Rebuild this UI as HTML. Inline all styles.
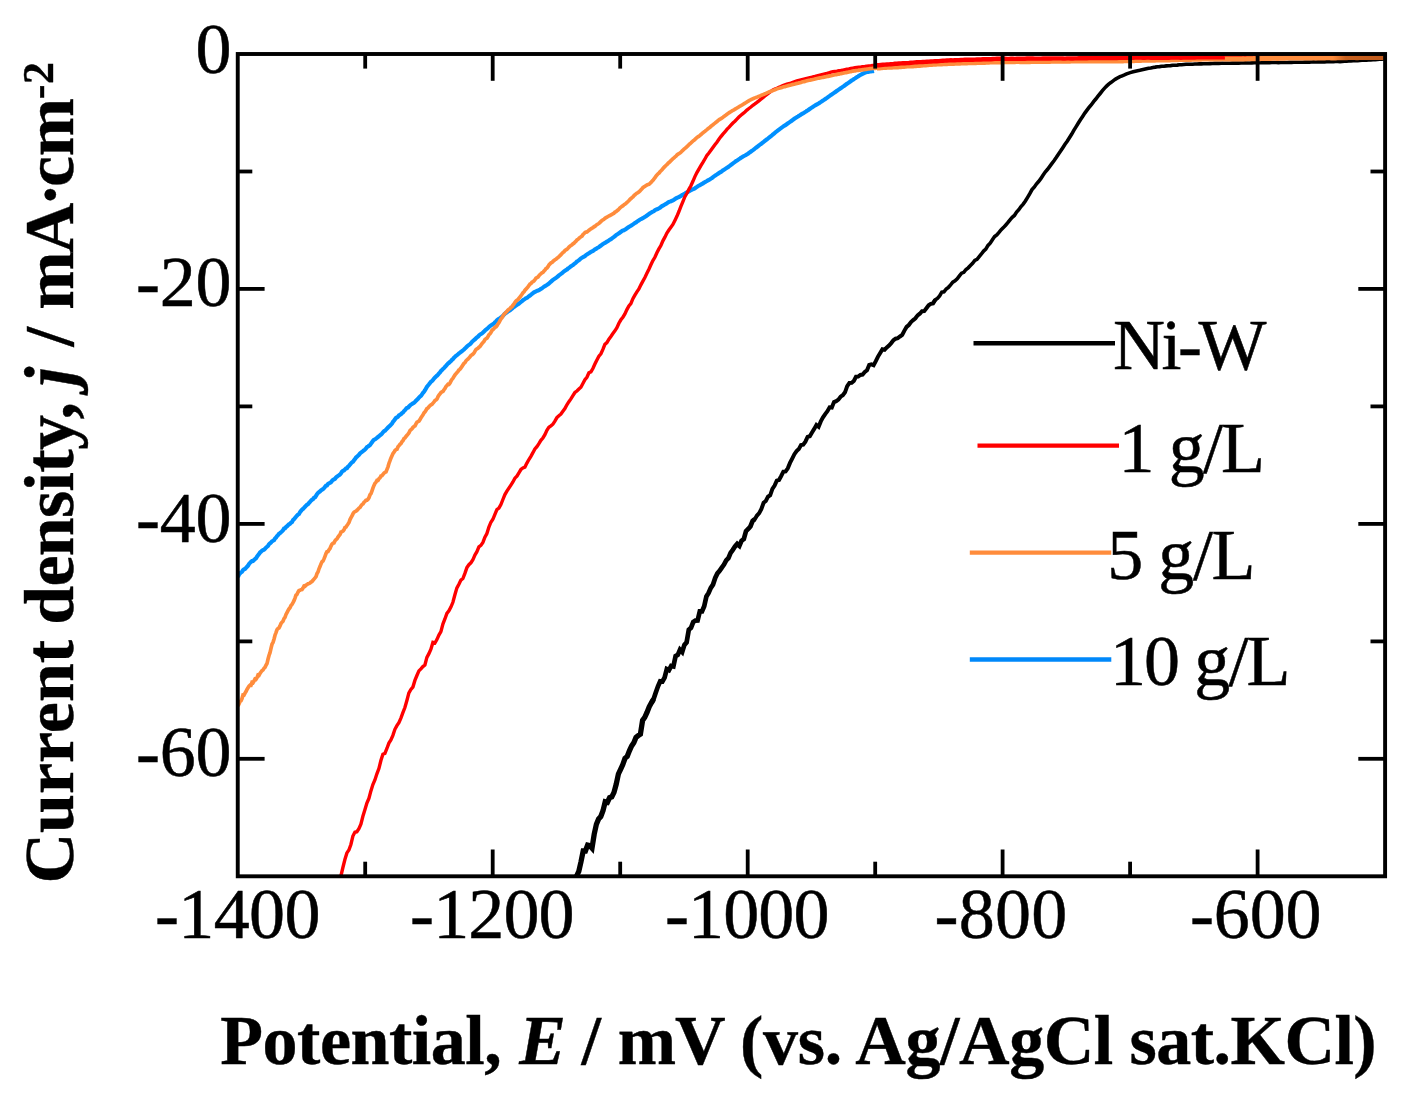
<!DOCTYPE html>
<html lang="en">
<head>
<meta charset="utf-8">
<title>Polarization curves</title>
<style>
html,body{margin:0;padding:0;background:#fff;}
body{width:1412px;height:1099px;overflow:hidden;}
svg{display:block;filter:blur(0.55px);font-family:"Liberation Serif",serif;}
.tk{font-size:72px;fill:#000;stroke:#000;stroke-width:0.5px;}
.ttl{font-size:70px;font-weight:bold;fill:#000;stroke:#000;stroke-width:0.4px;}
.cv{fill:none;stroke-linejoin:miter;stroke-miterlimit:2.5;stroke-linecap:butt;}
</style>
</head>
<body>
<svg width="1412" height="1099" viewBox="0 0 1412 1099">
<rect x="0" y="0" width="1412" height="1099" fill="#fff"/>
<defs><linearGradient id="og" gradientUnits="userSpaceOnUse" x1="870" y1="0" x2="1390" y2="0">
<stop offset="0" stop-color="#ff8c3c"/><stop offset="0.89" stop-color="#ff8c3c"/><stop offset="0.915" stop-color="#c8601e"/><stop offset="1" stop-color="#c05a1c"/>
</linearGradient></defs>
<!-- curves -->
<g class="cv">
<path id="c-black0" d="M933.0,303.4 935.2,299.9 937.4,298.4 939.6,295.9 941.8,292.1 944.0,291.9 946.2,289.0 948.4,287.3 950.6,284.9 952.8,282.2 955.0,280.9 957.2,278.8 959.4,275.9 961.6,273.2 963.8,272.3 966.0,269.5 968.2,267.8 970.4,265.5 972.6,263.3 974.8,260.4 977.0,259.3 979.2,256.7 981.4,254.0 983.6,251.1 985.8,249.2 988.0,245.4 990.2,243.2 992.4,239.8 994.6,236.6 996.8,234.9 999.0,232.4 1001.2,229.7 1003.4,227.6 1005.6,225.2 1007.8,222.7 1010.0,219.8 1012.2,217.3 1014.4,215.5 1016.6,212.1 1018.8,209.7 1021.0,206.5 1023.2,204.1 1025.4,201.0 1027.6,197.4 1029.8,193.7 1032.0,189.6 1034.2,187.2 1036.4,184.0 1038.6,181.5 1040.8,178.7 1043.0,175.2 1045.2,172.0 1047.4,169.5 1049.6,166.6 1051.8,163.7 1054.0,160.8 1056.2,157.6 1058.4,154.2 1060.6,151.1 1062.8,147.7 1065.0,144.3 1067.2,141.3 1069.4,137.8 1071.6,134.3 1073.8,130.4 1076.0,126.9 1078.2,123.3 1080.4,119.8 1082.6,116.5 1084.8,113.1 1087.0,110.1 1089.2,107.2 1091.4,104.7 1093.6,101.6 1095.8,99.0 1098.0,96.2 1100.2,93.5 1102.4,90.7 1104.6,88.1 1106.8,85.9 1109.0,83.9 1111.2,82.3 1113.4,80.6 1115.6,79.1 1117.8,77.8 1120.0,76.7 1122.2,75.8 1124.4,74.9 1126.6,73.9 1128.8,73.1 1131.0,72.4 1133.2,71.7 1135.4,71.2 1137.6,70.7 1139.8,70.3 1142.0,69.8 1144.2,69.3 1146.4,68.8 1148.6,68.3 1150.8,67.9 1153.0,67.4 1155.2,67.1 1157.4,66.7 1159.6,66.6 1161.8,66.3 1164.0,66.2 1166.2,65.9 1168.4,65.8 1170.6,65.6 1172.8,65.3 1175.0,65.2 1177.2,65.1 1179.4,64.8 1181.6,64.7 1183.8,64.5 1186.0,64.3 1188.2,64.3 1190.4,64.2 1192.6,64.2 1194.8,64.0 1197.0,64.0 1199.2,63.9 1201.4,63.9 1203.6,63.8 1205.8,63.7 1208.0,63.7 1210.2,63.6 1212.4,63.5 1214.6,63.3 1216.8,63.4 1219.0,63.4 1221.2,63.3 1223.4,63.3 1225.6,63.3 1227.8,63.2 1230.0,63.2 1232.2,63.1 1234.4,63.1 1236.6,63.1 1238.8,63.1 1241.0,63.0 1243.2,63.0 1245.4,62.9 1247.6,63.0 1249.8,63.0 1252.0,62.9 1254.2,62.8 1256.4,62.8 1258.6,62.8 1260.8,62.8 1263.0,62.7 1265.2,62.7 1267.4,62.7 1269.6,62.7 1271.8,62.5 1274.0,62.5 1276.2,62.5 1278.4,62.6 1280.6,62.5 1282.8,62.5 1285.0,62.5 1287.2,62.5 1289.4,62.4 1291.6,62.4 1293.8,62.3 1296.0,62.2 1298.2,62.3 1300.4,62.3 1302.6,62.2 1304.8,62.1 1307.0,62.1 1309.2,62.1 1311.4,62.0 1313.6,61.9 1315.8,62.0 1318.0,61.9 1320.2,61.9 1322.4,61.9 1324.6,61.9 1326.8,61.8 1329.0,61.8 1331.2,61.7 1333.4,61.6 1335.6,61.5 1337.8,61.5 1340.0,61.6 1342.2,61.5 1344.4,61.3 1346.6,61.1 1348.8,61.0 1351.0,60.9 1353.2,60.8 1355.4,60.7 1357.6,60.6 1359.8,60.4 1362.0,60.3 1364.2,60.2 1366.4,60.1 1368.6,60.0 1370.8,59.9 1373.0,59.8 1375.2,59.6 1377.4,59.4 1379.6,59.3 1381.8,59.1 1384.0,59.0" stroke="#000" stroke-width="3.6"/>
<path id="c-black1" d="M752.6,520.9 754.8,519.2 757.0,515.5 759.2,513.2 761.4,508.9 763.6,502.8 765.8,501.0 768.0,496.7 770.2,495.3 772.4,488.8 774.6,485.6 776.8,480.6 779.0,480.0 781.2,476.0 783.4,471.7 785.6,471.4 787.8,468.3 790.0,462.9 792.2,458.6 794.4,454.2 796.6,451.1 798.8,449.1 801.0,445.1 803.2,444.7 805.4,441.7 807.6,436.9 809.8,436.3 812.0,432.5 814.2,428.9 816.4,425.0 818.6,426.7 820.8,421.4 823.0,417.4 825.2,414.1 827.4,411.2 829.6,407.3 831.8,407.6 834.0,402.1 836.2,401.2 838.4,399.6 840.6,396.7 842.8,395.2 845.0,392.3 847.2,386.1 849.4,383.0 851.6,382.9 853.8,380.9 856.0,376.7 858.2,376.6 860.4,374.9 862.6,374.6 864.8,372.0 867.0,370.2 869.2,365.0 871.4,364.4 873.6,365.2 875.8,361.2 878.0,356.6 880.2,352.9 882.4,349.2 884.6,349.7 886.8,347.4 889.0,345.5 891.2,343.1 893.4,340.3 895.6,338.7 897.8,338.1 900.0,336.5 902.2,335.0 904.4,330.6 906.6,326.9 908.8,325.0 911.0,322.1 913.2,320.1 915.4,318.3 917.6,315.4 919.8,313.7 922.0,311.2 924.2,311.1 926.4,308.2 928.6,305.3 930.8,303.9 933.0,303.4 935.2,299.9" stroke="#000" stroke-width="4.0"/>
<path id="c-black2" d="M651.4,702.8 653.6,699.1 655.8,692.5 658.0,686.3 660.2,681.3 662.4,681.5 664.6,677.6 666.8,669.1 669.0,670.2 671.2,666.0 673.4,666.5 675.6,656.1 677.8,654.9 680.0,649.7 682.2,652.0 684.4,644.9 686.6,642.4 688.8,629.8 691.0,627.9 693.2,622.1 695.4,620.6 697.6,620.5 699.8,611.4 702.0,611.4 704.2,606.2 706.4,596.5 708.6,593.0 710.8,587.8 713.0,584.6 715.2,577.9 717.4,573.4 719.6,570.9 721.8,567.6 724.0,564.6 726.2,560.5 728.4,558.2 730.6,552.9 732.8,549.8 735.0,546.5 737.2,543.9 739.4,545.9 741.6,540.7 743.8,539.1 746.0,531.2 748.2,529.0 750.4,526.4 752.6,520.9 754.8,519.2" stroke="#000" stroke-width="4.7"/>
<path id="c-black3" d="M576.6,876.0 578.8,871.3 581.0,861.8 583.2,851.0 585.4,851.0 587.6,845.1 589.8,845.7 592.0,848.1 594.2,834.3 596.4,824.3 598.6,818.9 600.8,816.5 603.0,810.8 605.2,801.8 607.4,802.4 609.6,797.6 611.8,796.9 614.0,792.4 616.2,784.3 618.4,774.0 620.6,769.3 622.8,764.6 625.0,758.3 627.2,756.5 629.4,750.8 631.6,746.0 633.8,742.7 636.0,737.4 638.2,735.6 640.4,734.1 642.6,720.4 644.8,717.3 647.0,712.4 649.2,706.8 651.4,702.8 653.6,699.1" stroke="#000" stroke-width="5.3"/>
<path id="c-blue" d="M238.0,577.0 239.0,574.5 240.0,573.4 241.0,572.3 242.0,571.8 243.0,570.1 244.0,569.3 245.0,568.9 246.0,567.8 247.0,566.8 248.0,565.7 249.0,563.9 250.0,562.9 251.0,561.9 252.0,561.1 253.0,561.0 254.0,560.0 255.0,559.0 256.0,558.3 257.0,556.6 258.0,555.2 259.0,554.0 260.0,552.5 261.0,551.8 262.0,550.7 263.0,550.2 264.0,549.7 265.0,548.9 266.0,547.6 267.0,546.8 268.0,545.9 269.0,544.2 270.0,543.3 271.0,542.5 272.0,541.3 273.0,540.8 274.0,540.2 275.0,538.5 276.0,537.6 277.0,536.1 278.0,535.2 279.0,533.8 280.0,533.1 281.0,532.2 282.0,531.4 283.0,530.2 284.0,528.5 285.0,528.3 286.0,527.0 287.0,526.3 288.0,525.3 289.0,524.3 290.0,523.8 291.0,522.7 292.0,522.1 293.0,520.0 294.0,519.3 295.0,518.0 296.0,516.7 297.0,515.6 298.0,514.5 299.0,513.9 300.0,512.1 301.0,510.9 302.0,509.7 303.0,508.9 304.0,507.8 305.0,506.8 306.0,505.6 307.0,504.8 308.0,504.2 309.0,502.9 310.0,501.9 311.0,500.6 312.0,499.8 313.0,499.2 314.0,497.8 315.0,497.4 316.0,495.8 317.0,494.2 318.0,493.0 319.0,492.2 320.0,491.4 321.0,490.4 322.0,489.7 323.0,489.1 324.0,488.1 325.0,486.9 326.0,485.7 327.0,485.5 328.0,483.9 329.0,483.2 330.0,482.8 331.0,482.2 332.0,480.9 333.0,479.9 334.0,479.3 335.0,478.8 336.0,477.5 337.0,476.7 338.0,475.8 339.0,475.2 340.0,474.5 341.0,473.3 342.0,471.7 343.0,470.8 344.0,470.5 345.0,469.4 346.0,468.4 347.0,468.2 348.0,466.6 349.0,465.8 350.0,464.5 351.0,463.4 352.0,462.4 353.0,461.7 354.0,460.3 355.0,459.0 356.0,457.5 357.0,456.8 358.0,455.7 359.0,454.8 360.0,453.5 361.0,452.6 362.0,451.9 363.0,451.0 364.0,450.3 365.0,449.5 366.0,448.5 367.0,447.1 368.0,446.5 369.0,445.8 370.0,445.1 371.0,443.6 372.0,442.2 373.0,440.8 374.0,439.7 375.0,439.3 376.0,438.7 377.0,437.8 378.0,437.0 379.0,436.3 380.0,435.2 381.0,434.5 382.0,433.7 383.0,432.2 384.0,431.2 385.0,430.7 386.0,429.7 387.0,428.6 388.0,427.5 389.0,426.5 390.0,425.8 391.0,424.7 392.0,423.6 393.0,421.7 394.0,420.7 395.0,419.3 396.0,417.9 397.0,417.4 398.0,416.8 399.0,415.4 400.0,414.8 401.0,414.1 402.0,413.0 403.0,412.4 404.0,411.1 405.0,410.1 406.0,408.9 407.0,407.9 408.0,407.6 409.0,406.5 410.0,405.5 411.0,404.6 412.0,404.0 413.0,403.3 414.0,402.8 415.0,401.9 416.0,400.7 417.0,399.7 418.0,398.8 419.0,397.5 420.0,396.5 421.0,395.8 422.0,394.3 423.0,392.9 424.0,391.8 425.0,390.2 426.0,388.4 427.0,386.7 428.0,385.5 429.0,384.3 430.0,383.0 431.0,381.8 432.0,380.9 433.0,379.9 434.0,378.5 435.0,377.5 436.0,376.5 437.0,375.7 438.0,374.6 439.0,373.4 440.0,372.4 441.0,370.9 442.0,370.0 443.0,368.9 444.0,368.1 445.0,366.9 446.0,365.8 447.0,364.7 448.0,363.5 449.0,362.8 450.0,361.8 451.0,361.0 452.0,359.8 453.0,359.0 454.0,357.7 455.0,356.8 456.0,355.8 457.0,355.1 458.0,354.3 459.0,353.4 460.0,352.7 461.0,351.9 462.0,351.1 463.0,350.3 464.0,349.4 465.0,348.4 466.0,347.5 467.0,346.5 468.0,345.6 469.0,344.9 470.0,344.2 471.0,343.1 472.0,341.9 473.0,340.9 474.0,340.0 475.0,339.3 476.0,338.3 477.0,337.3 478.0,336.6 479.0,335.5 480.0,334.6 481.0,334.0 482.0,333.4 483.0,332.5 484.0,331.6 485.0,330.5 486.0,329.7 487.0,328.8 488.0,328.0 489.0,327.0 490.0,326.2 491.0,325.4 492.0,324.7 493.0,324.2 494.0,323.5 495.0,322.3 496.0,321.4 497.0,320.3 498.0,319.4 499.0,318.8 500.0,318.2 501.0,317.3 502.0,316.6 503.0,315.7 504.0,314.7 505.0,313.6 506.0,312.8 507.0,312.3 508.0,311.3 509.0,310.8 510.0,310.3 511.0,309.4 512.0,308.6 513.0,307.7 514.0,306.9 515.0,306.3 516.0,305.5 517.0,304.8 518.0,304.2 519.0,303.5 520.0,302.7 521.0,301.9 522.0,301.2 523.0,300.2 524.0,299.6 525.0,298.9 526.0,298.1 527.0,297.9 528.0,297.0 529.0,296.2 530.0,295.6 531.0,294.7 532.0,293.9 533.0,293.1 534.0,292.3 535.0,291.8 536.0,291.3 537.0,290.9 538.0,290.5 539.0,290.1 540.0,289.5 541.0,288.8 542.0,288.3 543.0,287.5 544.0,286.7 545.0,286.2 546.0,285.6 547.0,284.9 548.0,284.2 549.0,283.5 550.0,282.5 551.0,281.7 552.0,280.7 553.0,280.0 554.0,279.1 555.0,278.6 556.0,277.9 557.0,277.0 558.0,276.3 559.0,275.3 560.0,274.6 561.0,273.9 562.0,273.2 563.0,272.2 564.0,271.4 565.0,270.7 566.0,270.1 567.0,269.5 568.0,268.5 569.0,267.9 570.0,267.0 571.0,266.3 572.0,265.6 573.0,265.0 574.0,264.1 575.0,263.4 576.0,262.5 577.0,261.5 578.0,260.9 579.0,260.2 580.0,259.2 581.0,258.3 582.0,257.7 583.0,257.2 584.0,256.7 585.0,256.1 586.0,255.1 587.0,254.4 588.0,253.8 589.0,253.2 590.0,252.6 591.0,251.8 592.0,251.4 593.0,250.9 594.0,250.2 595.0,249.3 596.0,248.9 597.0,248.1 598.0,247.5 599.0,247.1 600.0,246.2 601.0,245.5 602.0,244.7 603.0,244.1 604.0,243.4 605.0,243.0 606.0,242.3 607.0,241.6 608.0,241.1 609.0,240.3 610.0,239.6 611.0,239.2 612.0,238.3 613.0,237.6 614.0,236.9 615.0,236.1 616.0,235.1 617.0,234.6 618.0,233.9 619.0,233.2 620.0,232.5 621.0,231.8 622.0,231.0 623.0,230.4 624.0,230.2 625.0,229.6 626.0,229.1 627.0,228.2 628.0,227.6 629.0,226.8 630.0,226.3 631.0,225.7 632.0,225.1 633.0,224.4 634.0,223.7 635.0,222.9 636.0,222.4 637.0,221.6 638.0,220.9 639.0,220.3 640.0,219.6 641.0,219.0 642.0,218.6 643.0,218.0 644.0,217.4 645.0,216.8 646.0,216.2 647.0,215.4 648.0,214.8 649.0,214.0 650.0,213.3 651.0,212.7 652.0,212.1 653.0,211.5 654.0,211.1 655.0,210.2 656.0,209.6 657.0,209.3 658.0,208.8 659.0,208.3 660.0,207.7 661.0,206.9 662.0,206.1 663.0,205.6 664.0,205.1 665.0,204.4 666.0,203.8 667.0,203.3 668.0,202.5 669.0,201.9 670.0,201.6 671.0,201.3 672.0,200.7 673.0,200.4 674.0,199.7 675.0,199.1 676.0,198.3 677.0,197.8 678.0,197.3 679.0,197.0 680.0,196.4 681.0,195.9 682.0,195.1 683.0,194.7 684.0,194.1 685.0,193.6 686.0,192.8 687.0,192.3 688.0,191.9 689.0,191.3 690.0,190.7 691.0,190.2 692.0,189.7 693.0,189.2 694.0,188.8 695.0,188.2 696.0,187.5 697.0,186.9 698.0,186.1 699.0,185.5 700.0,185.1 701.0,184.5 702.0,183.9 703.0,183.4 704.0,182.6 705.0,182.1 706.0,181.5 707.0,181.0 708.0,180.3 709.0,179.8 710.0,179.3 711.0,178.6 712.0,178.0 713.0,177.2 714.0,176.3 715.0,175.7 716.0,175.1 717.0,174.4 718.0,173.7 719.0,173.0 720.0,172.4 721.0,171.9 722.0,171.2 723.0,170.3 724.0,169.8 725.0,169.1 726.0,168.4 727.0,167.7 728.0,167.2 729.0,166.4 730.0,165.7 731.0,164.9 732.0,164.1 733.0,163.3 734.0,162.6 735.0,161.9 736.0,161.1 737.0,160.6 738.0,159.8 739.0,159.1 740.0,158.5 741.0,157.8 742.0,157.2 743.0,156.6 744.0,156.0 745.0,155.5 746.0,154.9 747.0,154.3 748.0,153.7 749.0,152.9 750.0,152.2 751.0,151.5 752.0,150.8 753.0,150.2 754.0,149.3 755.0,148.5 756.0,147.7 757.0,147.0 758.0,146.2 759.0,145.5 760.0,144.6 761.0,144.0 762.0,143.2 763.0,142.4 764.0,141.5 765.0,140.8 766.0,140.0 767.0,139.3 768.0,138.5 769.0,137.7 770.0,136.9 771.0,136.1 772.0,135.3 773.0,134.4 774.0,133.6 775.0,132.7 776.0,131.9 777.0,131.2 778.0,130.4 779.0,129.7 780.0,128.8 781.0,128.1 782.0,127.4 783.0,126.7 784.0,125.9 785.0,125.4 786.0,124.7 787.0,124.0 788.0,123.3 789.0,122.6 790.0,121.9 791.0,121.2 792.0,120.5 793.0,119.7 794.0,119.0 795.0,118.3 796.0,117.7 797.0,117.1 798.0,116.5 799.0,115.8 800.0,115.2 801.0,114.5 802.0,113.9 803.0,113.4 804.0,112.8 805.0,112.1 806.0,111.5 807.0,110.8 808.0,110.2 809.0,109.5 810.0,108.8 811.0,108.1 812.0,107.4 813.0,106.8 814.0,106.1 815.0,105.5 816.0,104.9 817.0,104.4 818.0,103.8 819.0,103.2 820.0,102.5 821.0,101.9 822.0,101.2 823.0,100.6 824.0,99.9 825.0,99.2 826.0,98.5 827.0,97.9 828.0,97.1 829.0,96.4 830.0,95.7 831.0,94.9 832.0,94.3 833.0,93.6 834.0,92.9 835.0,92.2 836.0,91.5 837.0,90.8 838.0,90.1 839.0,89.4 840.0,88.7 841.0,88.1 842.0,87.3 843.0,86.6 844.0,86.0 845.0,85.3 846.0,84.5 847.0,83.8 848.0,83.1 849.0,82.5 850.0,81.7 851.0,81.0 852.0,80.3 853.0,79.7 854.0,79.0 855.0,78.4 856.0,77.7 857.0,77.1 858.0,76.5 859.0,75.8 860.0,75.2 861.0,74.6 862.0,74.1 863.0,73.6 864.0,73.1 865.0,72.7 866.0,72.4 867.0,72.1 868.0,71.9 869.0,71.7 870.0,71.5 871.0,71.4 872.0,71.3 873.0,71.2 874.0,71.0" stroke="#0090ff" stroke-width="4.1"/>
<path id="c-red" d="M340.9,876.0 342.9,867.5 344.9,859.5 346.9,852.9 348.9,850.0 350.9,844.5 352.9,836.0 354.9,832.3 356.9,831.7 358.9,828.7 360.9,824.1 362.9,816.3 364.9,809.7 366.9,803.1 368.9,798.4 370.9,790.9 372.9,784.6 374.9,780.0 376.9,773.8 378.9,768.6 380.9,760.5 382.9,754.2 384.9,753.4 386.9,748.5 388.9,743.1 390.9,740.0 392.9,735.4 394.9,729.3 396.9,725.6 398.9,722.6 400.9,718.1 402.9,712.7 404.9,707.5 406.9,700.5 408.9,692.9 410.9,689.4 412.9,687.1 414.9,680.4 416.9,675.5 418.9,670.9 420.9,668.9 422.9,666.6 424.9,665.0 426.9,657.3 428.9,653.7 430.9,649.2 432.9,642.4 434.9,643.0 436.9,639.6 438.9,635.0 440.9,631.7 442.9,624.0 444.9,619.0 446.9,613.4 448.9,610.9 450.9,607.1 452.9,602.3 454.9,594.8 456.9,587.9 458.9,584.2 460.9,580.1 462.9,578.5 464.9,573.4 466.9,567.6 468.9,564.7 470.9,562.8 472.9,559.8 474.9,555.0 476.9,551.7 478.9,546.8 480.9,545.4 482.9,542.4 484.9,537.2 486.9,533.5 488.9,527.0 490.9,522.2 492.9,519.3 494.9,514.4 496.9,509.5 498.9,508.1 500.9,504.6 502.9,499.5 504.9,494.6 506.9,491.2 508.9,488.1 510.9,485.1 512.9,482.0 514.9,478.2 516.9,476.1 518.9,472.8 520.9,469.5 522.9,467.9 524.9,467.1 526.9,463.1 528.9,459.5 530.9,456.3 532.9,452.7 534.9,448.9 536.9,446.6 538.9,443.7 540.9,440.3 542.9,438.0 544.9,434.7 546.9,430.3 548.9,427.2 550.9,425.9 552.9,424.2 554.9,421.2 556.9,417.6 558.9,415.7 560.9,414.1 562.9,411.3 564.9,408.6 566.9,404.8 568.9,401.7 570.9,398.9 572.9,395.7 574.9,392.5 576.9,391.0 578.9,389.0 580.9,387.2 582.9,383.5 584.9,379.7 586.9,377.3 588.9,372.7 590.9,371.9 592.9,368.5 594.9,364.0 596.9,359.9 598.9,356.1 600.9,353.8 602.9,349.4 604.9,344.3 606.9,342.7 608.9,339.1 610.9,336.5 612.9,333.5 614.9,330.8 616.9,327.7 618.9,323.2 620.9,319.8 622.9,317.2 624.9,313.9 626.9,309.6 628.9,305.9 630.9,303.5 632.9,298.7 634.9,295.1 636.9,291.8 638.9,288.9 640.9,284.8 642.9,281.2 644.9,277.5 646.9,273.3 648.9,269.2 650.9,264.8 652.9,260.6 654.9,257.3 656.9,252.7 658.9,248.9 660.9,245.5 662.9,240.8 664.9,237.2 666.9,233.0 668.9,230.0 670.9,227.3 672.9,224.5 674.9,220.4 676.9,216.3 678.9,211.5 680.9,206.3 682.9,201.6 684.9,196.7 686.9,193.3 688.9,189.4 690.9,185.7 692.9,181.3 694.9,176.6 696.9,172.6 698.9,169.1 700.9,165.6 702.9,162.4 704.9,159.0 706.9,155.5 708.9,153.0 710.9,150.3 712.9,147.5 714.9,144.7 716.9,142.2 718.9,139.3 720.9,136.6 722.9,134.1 724.9,132.0 726.9,129.4 728.9,127.4 730.9,125.2 732.9,123.0 734.9,121.2 736.9,119.1 738.9,117.0 740.9,115.2 742.9,113.6 744.9,112.0 746.9,110.1 748.9,108.5 750.9,107.0 752.9,105.3 754.9,103.9 756.9,102.4 758.9,100.8 760.9,99.2 762.9,97.6 764.9,96.0 766.9,94.4 768.9,92.8 770.9,91.4 772.9,90.1 774.9,89.1 776.9,88.3 778.9,87.4 780.9,86.6 782.9,85.6 784.9,84.9 786.9,84.2 788.9,83.6 790.9,83.1 792.9,82.3 794.9,81.6 796.9,81.0 798.9,80.4 800.9,79.9 802.9,79.4 804.9,78.9 806.9,78.4 808.9,77.9 810.9,77.5 812.9,76.8 814.9,76.4 816.9,75.9 818.9,75.4 820.9,74.9 822.9,74.4 824.9,73.9 826.9,73.4 828.9,72.8 830.9,72.2 832.9,71.8 834.9,71.5 836.9,71.2 838.9,70.8 840.9,70.5 842.9,70.1 844.9,69.7 846.9,69.3 848.9,69.0 850.9,68.5 852.9,68.1 854.9,67.8 856.9,67.5 858.9,67.2 860.9,67.0 862.9,66.7 864.9,66.5 866.9,66.2 868.9,65.9 870.9,65.7 872.9,65.4 874.9,65.4 876.9,65.2" stroke="#ff0000" stroke-width="3.4"/>
<path id="c-orange" d="M238.0,706.0 239.0,703.9 240.0,701.6 241.0,700.9 242.0,698.6 243.0,695.0 244.0,695.1 245.0,693.1 246.0,691.5 247.0,689.4 248.0,687.9 249.0,686.1 250.0,685.2 251.0,685.3 252.0,682.4 253.0,682.7 254.0,681.0 255.0,679.0 256.0,679.3 257.0,677.7 258.0,675.1 259.0,675.4 260.0,673.4 261.0,672.0 262.0,670.6 263.0,670.0 264.0,668.3 265.0,667.3 266.0,665.2 267.0,663.6 268.0,659.3 269.0,655.5 270.0,652.7 271.0,648.3 272.0,644.2 273.0,642.4 274.0,639.2 275.0,635.2 276.0,632.6 277.0,629.6 278.0,628.5 279.0,628.0 280.0,625.9 281.0,623.5 282.0,622.2 283.0,621.2 284.0,618.6 285.0,617.3 286.0,614.5 287.0,612.6 288.0,610.7 289.0,608.9 290.0,607.8 291.0,605.5 292.0,604.4 293.0,602.7 294.0,600.7 295.0,598.1 296.0,595.2 297.0,594.4 298.0,592.1 299.0,590.6 300.0,590.2 301.0,589.7 302.0,589.6 303.0,588.0 304.0,586.1 305.0,586.3 306.0,585.0 307.0,584.7 308.0,583.8 309.0,583.6 310.0,583.0 311.0,582.1 312.0,581.5 313.0,580.3 314.0,579.1 315.0,577.9 316.0,576.6 317.0,573.6 318.0,572.0 319.0,568.8 320.0,566.6 321.0,563.9 322.0,561.8 323.0,561.1 324.0,558.9 325.0,556.3 326.0,553.6 327.0,551.7 328.0,551.5 329.0,549.7 330.0,548.5 331.0,546.1 332.0,544.1 333.0,543.2 334.0,543.0 335.0,540.7 336.0,539.7 337.0,538.8 338.0,537.1 339.0,535.7 340.0,534.6 341.0,532.0 342.0,531.6 343.0,531.0 344.0,529.8 345.0,527.5 346.0,527.1 347.0,525.4 348.0,524.0 349.0,522.5 350.0,519.6 351.0,517.7 352.0,515.8 353.0,513.8 354.0,512.3 355.0,511.5 356.0,511.1 357.0,510.3 358.0,509.2 359.0,508.1 360.0,507.4 361.0,505.8 362.0,504.6 363.0,503.9 364.0,502.2 365.0,501.5 366.0,500.2 367.0,500.1 368.0,499.2 369.0,497.6 370.0,494.8 371.0,493.6 372.0,490.8 373.0,487.8 374.0,485.4 375.0,483.2 376.0,482.2 377.0,480.4 378.0,480.4 379.0,478.6 380.0,477.8 381.0,475.9 382.0,475.7 383.0,474.3 384.0,473.1 385.0,472.4 386.0,471.9 387.0,469.4 388.0,466.8 389.0,463.3 390.0,460.7 391.0,457.9 392.0,455.7 393.0,453.5 394.0,452.3 395.0,450.5 396.0,449.6 397.0,449.3 398.0,446.8 399.0,445.7 400.0,444.3 401.0,443.5 402.0,441.6 403.0,440.6 404.0,438.6 405.0,437.9 406.0,436.5 407.0,435.3 408.0,434.2 409.0,432.8 410.0,430.6 411.0,429.7 412.0,428.7 413.0,427.3 414.0,426.5 415.0,425.9 416.0,423.9 417.0,422.1 418.0,421.7 419.0,421.1 420.0,419.6 421.0,417.7 422.0,416.2 423.0,414.8 424.0,412.9 425.0,411.9 426.0,410.2 427.0,408.5 428.0,408.1 429.0,406.7 430.0,405.6 431.0,404.9 432.0,404.3 433.0,403.1 434.0,402.0 435.0,400.4 436.0,400.0 437.0,398.9 438.0,396.7 439.0,395.1 440.0,393.8 441.0,392.5 442.0,391.9 443.0,391.3 444.0,389.7 445.0,388.4 446.0,386.5 447.0,385.4 448.0,384.3 449.0,384.4 450.0,383.1 451.0,380.9 452.0,379.3 453.0,378.2 454.0,376.4 455.0,374.9 456.0,373.6 457.0,372.6 458.0,371.4 459.0,369.9 460.0,369.2 461.0,367.8 462.0,366.5 463.0,364.8 464.0,363.4 465.0,362.6 466.0,360.8 467.0,359.8 468.0,359.1 469.0,357.9 470.0,356.9 471.0,355.3 472.0,354.8 473.0,354.1 474.0,353.0 475.0,351.1 476.0,349.5 477.0,348.8 478.0,348.3 479.0,347.2 480.0,346.5 481.0,345.0 482.0,343.6 483.0,342.4 484.0,341.4 485.0,339.5 486.0,338.8 487.0,338.1 488.0,336.5 489.0,334.7 490.0,333.8 491.0,332.3 492.0,330.3 493.0,329.5 494.0,328.5 495.0,327.2 496.0,326.9 497.0,325.6 498.0,323.9 499.0,322.5 500.0,320.6 501.0,318.9 502.0,317.6 503.0,315.9 504.0,314.2 505.0,313.4 506.0,312.3 507.0,311.2 508.0,310.1 509.0,309.1 510.0,308.5 511.0,307.3 512.0,306.8 513.0,305.2 514.0,304.0 515.0,302.3 516.0,301.1 517.0,300.1 518.0,299.5 519.0,298.1 520.0,297.0 521.0,295.7 522.0,294.3 523.0,292.8 524.0,291.8 525.0,290.1 526.0,289.1 527.0,288.1 528.0,286.8 529.0,285.5 530.0,284.0 531.0,283.6 532.0,282.1 533.0,281.6 534.0,280.8 535.0,279.6 536.0,278.2 537.0,277.5 538.0,277.0 539.0,275.6 540.0,274.5 541.0,273.7 542.0,272.8 543.0,272.3 544.0,271.0 545.0,270.0 546.0,268.5 547.0,268.1 548.0,266.7 549.0,264.9 550.0,263.9 551.0,262.9 552.0,262.5 553.0,261.4 554.0,260.5 555.0,259.7 556.0,259.2 557.0,258.2 558.0,257.5 559.0,256.7 560.0,255.6 561.0,254.6 562.0,253.6 563.0,252.4 564.0,251.8 565.0,250.4 566.0,249.8 567.0,249.2 568.0,248.2 569.0,247.1 570.0,246.1 571.0,245.4 572.0,244.7 573.0,243.8 574.0,243.2 575.0,242.1 576.0,241.2 577.0,239.9 578.0,239.2 579.0,238.4 580.0,237.4 581.0,236.8 582.0,236.1 583.0,234.5 584.0,233.7 585.0,232.6 586.0,232.1 587.0,232.0 588.0,231.1 589.0,230.3 590.0,229.5 591.0,228.8 592.0,228.2 593.0,227.7 594.0,226.7 595.0,226.3 596.0,225.3 597.0,224.6 598.0,224.0 599.0,223.4 600.0,222.4 601.0,221.4 602.0,220.5 603.0,219.8 604.0,219.3 605.0,218.3 606.0,217.7 607.0,217.1 608.0,216.5 609.0,215.9 610.0,215.5 611.0,214.9 612.0,214.3 613.0,213.7 614.0,213.3 615.0,212.1 616.0,211.6 617.0,210.8 618.0,210.0 619.0,209.0 620.0,207.9 621.0,207.1 622.0,206.3 623.0,205.7 624.0,204.7 625.0,204.2 626.0,203.4 627.0,202.5 628.0,201.5 629.0,200.5 630.0,199.4 631.0,198.5 632.0,197.6 633.0,196.8 634.0,195.6 635.0,194.8 636.0,193.8 637.0,193.0 638.0,192.6 639.0,191.8 640.0,190.9 641.0,189.8 642.0,188.7 643.0,187.5 644.0,187.0 645.0,186.2 646.0,185.6 647.0,185.0 648.0,184.6 649.0,184.3 650.0,183.4 651.0,182.5 652.0,181.3 653.0,180.3 654.0,179.0 655.0,177.6 656.0,176.2 657.0,174.9 658.0,173.8 659.0,173.1 660.0,171.8 661.0,170.8 662.0,169.7 663.0,168.5 664.0,167.4 665.0,166.4 666.0,165.3 667.0,164.6 668.0,163.4 669.0,162.5 670.0,161.6 671.0,160.5 672.0,159.6 673.0,158.7 674.0,157.8 675.0,156.9 676.0,156.1 677.0,154.9 678.0,154.2 679.0,153.7 680.0,152.9 681.0,152.2 682.0,151.1 683.0,150.2 684.0,149.2 685.0,148.3 686.0,147.5 687.0,146.6 688.0,145.7 689.0,144.6 690.0,143.7 691.0,142.9 692.0,142.0 693.0,141.0 694.0,140.4 695.0,139.4 696.0,138.5 697.0,137.5 698.0,136.8 699.0,136.2 700.0,135.4 701.0,134.5 702.0,133.6 703.0,132.8 704.0,131.9 705.0,131.2 706.0,130.4 707.0,129.6 708.0,128.7 709.0,127.9 710.0,127.2 711.0,126.3 712.0,125.6 713.0,124.7 714.0,123.9 715.0,123.1 716.0,122.3 717.0,121.5 718.0,120.6 719.0,119.8 720.0,119.2 721.0,118.6 722.0,117.9 723.0,117.2 724.0,116.4 725.0,115.7 726.0,115.0 727.0,114.2 728.0,113.5 729.0,112.8 730.0,112.2 731.0,111.5 732.0,111.0 733.0,110.3 734.0,109.8 735.0,109.2 736.0,108.6 737.0,108.0 738.0,107.4 739.0,106.7 740.0,106.1 741.0,105.6 742.0,105.0 743.0,104.5 744.0,103.8 745.0,103.2 746.0,102.5 747.0,102.0 748.0,101.3 749.0,100.7 750.0,100.2 751.0,99.7 752.0,99.1 753.0,98.7 754.0,98.3 755.0,97.9 756.0,97.5 757.0,97.1 758.0,96.7 759.0,96.3 760.0,95.9 761.0,95.4 762.0,95.0 763.0,94.6 764.0,94.2 765.0,93.8 766.0,93.4 767.0,92.8 768.0,92.4 769.0,92.0 770.0,91.6 771.0,91.3 772.0,90.9 773.0,90.5 774.0,90.1 775.0,89.7 776.0,89.3 777.0,88.9 778.0,88.5 779.0,88.3 780.0,88.0 781.0,87.7 782.0,87.4 783.0,87.1 784.0,86.8 785.0,86.6 786.0,86.3 787.0,86.0 788.0,85.7 789.0,85.4 790.0,85.2 791.0,84.9 792.0,84.6 793.0,84.4 794.0,84.2 795.0,83.9 796.0,83.6 797.0,83.4 798.0,83.2 799.0,82.9 800.0,82.7 801.0,82.4 802.0,82.1 803.0,81.8 804.0,81.6 805.0,81.4 806.0,81.1 807.0,80.8 808.0,80.5 809.0,80.2 810.0,80.1 811.0,79.9 812.0,79.7 813.0,79.5 814.0,79.3 815.0,79.0 816.0,78.7 817.0,78.5 818.0,78.3 819.0,78.1 820.0,77.9 821.0,77.7 822.0,77.5 823.0,77.3 824.0,77.2 825.0,76.9 826.0,76.7 827.0,76.4 828.0,76.3 829.0,76.1 830.0,75.9 831.0,75.7 832.0,75.5 833.0,75.2 834.0,75.0 835.0,74.8 836.0,74.6 837.0,74.4 838.0,74.2 839.0,74.1 840.0,73.8 841.0,73.6 842.0,73.4 843.0,73.2 844.0,73.0 845.0,72.8 846.0,72.6 847.0,72.4 848.0,72.2 849.0,72.0 850.0,71.8 851.0,71.6 852.0,71.3 853.0,71.1 854.0,70.9 855.0,70.8 856.0,70.6 857.0,70.5 858.0,70.4 859.0,70.2 860.0,70.1 861.0,70.0 862.0,69.8 863.0,69.7 864.0,69.6 865.0,69.4 866.0,69.3 867.0,69.1 868.0,69.0 869.0,68.9 870.0,68.7 871.0,68.6 872.0,68.5 873.0,68.4 874.0,68.3 875.0,68.3 876.0,68.2 877.0,68.0" stroke="#ff8c3c" stroke-width="3.7"/>
<path id="c-red-flat2" d="M1224.9,57.2 1226.9,57.3 1228.9,57.3 1230.9,57.2 1232.9,57.2 1234.9,57.2 1236.9,57.3 1238.9,57.1 1240.9,57.2 1242.9,57.1 1244.9,57.1 1246.9,57.2 1248.9,57.2 1250.9,57.3 1252.9,57.2 1254.9,57.3 1256.9,57.3 1258.9,57.3 1260.9,57.4 1262.9,57.3 1264.9,57.3 1266.9,57.3 1268.9,57.2 1270.9,57.2 1272.9,57.1 1274.9,57.1 1276.9,57.0 1278.9,57.0 1280.9,57.0 1282.9,57.1 1284.9,57.2 1286.9,57.1 1288.9,57.1 1290.9,57.0 1292.9,57.1 1294.9,57.1 1296.9,57.1 1298.9,57.2 1300.9,57.2 1302.9,57.0 1304.9,57.0 1306.9,56.9 1308.9,56.9 1310.9,57.0 1312.9,57.0 1314.9,56.9 1316.9,57.0 1318.9,57.1 1320.9,57.0 1322.9,57.0 1324.9,56.9 1326.9,57.0 1328.9,57.0 1330.9,57.1 1332.9,57.1 1334.9,57.1 1336.9,57.2 1338.9,57.1 1340.9,57.0 1342.9,56.9 1344.9,57.0 1346.9,56.9 1348.9,57.0 1350.9,56.9 1352.9,56.9 1354.9,57.0 1356.9,57.0 1358.9,57.0 1360.9,57.0 1362.9,57.0 1364.9,57.0 1366.9,56.8 1368.9,56.8 1370.9,56.7 1372.9,56.7 1374.9,56.8 1376.9,56.8 1378.9,56.8 1380.9,56.7 1382.9,56.9 1384.9,56.8" stroke="#ff0000" stroke-width="4.0"/>
<path id="c-orange-flat" d="M877.0,68.0 878.0,68.0 879.0,67.9 880.0,67.9 881.0,67.8 882.0,67.7 883.0,67.6 884.0,67.6 885.0,67.5 886.0,67.5 887.0,67.3 888.0,67.3 889.0,67.2 890.0,67.3 891.0,67.2 892.0,67.2 893.0,67.1 894.0,67.1 895.0,67.1 896.0,67.1 897.0,67.0 898.0,66.9 899.0,66.8 900.0,66.8 901.0,66.7 902.0,66.6 903.0,66.5 904.0,66.4 905.0,66.2 906.0,66.2 907.0,66.1 908.0,66.0 909.0,66.0 910.0,65.9 911.0,65.9 912.0,65.9 913.0,65.9 914.0,65.7 915.0,65.7 916.0,65.7 917.0,65.6 918.0,65.6 919.0,65.5 920.0,65.4 921.0,65.3 922.0,65.2 923.0,65.1 924.0,65.0 925.0,64.9 926.0,64.9 927.0,64.8 928.0,64.7 929.0,64.6 930.0,64.5 931.0,64.5 932.0,64.4 933.0,64.3 934.0,64.3 935.0,64.2 936.0,64.2 937.0,64.1 938.0,64.1 939.0,64.0 940.0,64.0 941.0,63.9 942.0,63.9 943.0,63.8 944.0,63.8 945.0,63.7 946.0,63.7 947.0,63.7 948.0,63.6 949.0,63.6 950.0,63.6 951.0,63.5 952.0,63.4 953.0,63.4 954.0,63.4 955.0,63.3 956.0,63.3 957.0,63.2 958.0,63.3 959.0,63.2 960.0,63.2 961.0,63.1 962.0,63.1 963.0,63.1 964.0,63.0 965.0,62.9 966.0,62.9 967.0,62.9 968.0,62.8 969.0,62.7 970.0,62.7 971.0,62.8 972.0,62.7 973.0,62.7 974.0,62.6 975.0,62.7 976.0,62.7 977.0,62.6 978.0,62.6 979.0,62.6 980.0,62.6 981.0,62.5 982.0,62.5 983.0,62.4 984.0,62.4 985.0,62.4 986.0,62.3 987.0,62.3 988.0,62.2 989.0,62.2 990.0,62.1 991.0,62.1 992.0,62.0 993.0,62.1 994.0,62.0 995.0,62.0 996.0,62.0 997.0,61.9 998.0,61.9 999.0,61.9 1000.0,61.9 1001.0,61.9 1002.0,61.8 1003.0,61.8 1004.0,61.7 1005.0,61.7 1006.0,61.7 1007.0,61.7 1008.0,61.7 1009.0,61.7 1010.0,61.7 1011.0,61.7 1012.0,61.7 1013.0,61.7 1014.0,61.7 1015.0,61.7 1016.0,61.6 1017.0,61.6 1018.0,61.6 1019.0,61.6 1020.0,61.7 1021.0,61.7 1022.0,61.7 1023.0,61.7 1024.0,61.7 1025.0,61.7 1026.0,61.7 1027.0,61.7 1028.0,61.7 1029.0,61.7 1030.0,61.7 1031.0,61.6 1032.0,61.6 1033.0,61.5 1034.0,61.5 1035.0,61.5 1036.0,61.5 1037.0,61.6 1038.0,61.6 1039.0,61.6 1040.0,61.6 1041.0,61.5 1042.0,61.5 1043.0,61.5 1044.0,61.5 1045.0,61.5 1046.0,61.4 1047.0,61.4 1048.0,61.4 1049.0,61.4 1050.0,61.4 1051.0,61.3 1052.0,61.2 1053.0,61.3 1054.0,61.2 1055.0,61.2 1056.0,61.3 1057.0,61.3 1058.0,61.2 1059.0,61.2 1060.0,61.2 1061.0,61.2 1062.0,61.2 1063.0,61.1 1064.0,61.2 1065.0,61.2 1066.0,61.2 1067.0,61.2 1068.0,61.2 1069.0,61.2 1070.0,61.2 1071.0,61.1 1072.0,61.1 1073.0,61.1 1074.0,61.1 1075.0,61.1 1076.0,61.1 1077.0,61.0 1078.0,61.0 1079.0,61.0 1080.0,61.0 1081.0,61.0 1082.0,61.0 1083.0,61.0 1084.0,61.0 1085.0,60.9 1086.0,60.9 1087.0,60.9 1088.0,61.0 1089.0,61.0 1090.0,61.0 1091.0,61.0 1092.0,60.9 1093.0,60.9 1094.0,61.0 1095.0,61.0 1096.0,61.0 1097.0,61.0 1098.0,61.0 1099.0,61.0 1100.0,61.0 1101.0,61.0 1102.0,60.9 1103.0,61.0 1104.0,61.0 1105.0,61.0 1106.0,61.0 1107.0,61.0 1108.0,60.9 1109.0,61.0 1110.0,61.0 1111.0,61.0 1112.0,60.9 1113.0,61.0 1114.0,61.0 1115.0,61.0 1116.0,60.9 1117.0,60.9 1118.0,60.9 1119.0,60.9 1120.0,60.9 1121.0,60.9 1122.0,60.9 1123.0,60.9 1124.0,60.8 1125.0,60.8 1126.0,60.7 1127.0,60.7 1128.0,60.7 1129.0,60.7 1130.0,60.7 1131.0,60.8 1132.0,60.8 1133.0,60.8 1134.0,60.7 1135.0,60.6 1136.0,60.6 1137.0,60.5 1138.0,60.5 1139.0,60.4 1140.0,60.4 1141.0,60.4 1142.0,60.3 1143.0,60.2 1144.0,60.2 1145.0,60.2 1146.0,60.2 1147.0,60.3 1148.0,60.2 1149.0,60.2 1150.0,60.2 1151.0,60.2 1152.0,60.3 1153.0,60.2 1154.0,60.2 1155.0,60.2 1156.0,60.1 1157.0,60.0 1158.0,60.0 1159.0,60.0 1160.0,60.0 1161.0,60.0 1162.0,60.0 1163.0,60.0 1164.0,59.9 1165.0,59.9 1166.0,59.9 1167.0,59.8 1168.0,59.9 1169.0,59.8 1170.0,59.9 1171.0,59.8 1172.0,59.8 1173.0,59.8 1174.0,59.7 1175.0,59.7 1176.0,59.7 1177.0,59.7 1178.0,59.7 1179.0,59.6 1180.0,59.6 1181.0,59.6 1182.0,59.6 1183.0,59.5 1184.0,59.6 1185.0,59.6 1186.0,59.6 1187.0,59.5 1188.0,59.4 1189.0,59.4 1190.0,59.4 1191.0,59.4 1192.0,59.3 1193.0,59.3 1194.0,59.3 1195.0,59.3 1196.0,59.3 1197.0,59.3 1198.0,59.3 1199.0,59.3 1200.0,59.3 1201.0,59.2 1202.0,59.1 1203.0,59.1 1204.0,59.1 1205.0,59.1 1206.0,59.1 1207.0,59.1 1208.0,59.1 1209.0,59.1 1210.0,59.0 1211.0,59.0 1212.0,59.0 1213.0,58.9 1214.0,58.9 1215.0,58.9 1216.0,58.9 1217.0,58.9 1218.0,58.9 1219.0,58.8 1220.0,58.9 1221.0,58.9 1222.0,58.8 1223.0,58.8 1224.0,58.9 1225.0,58.9 1226.0,58.9 1227.0,59.0 1228.0,59.0 1229.0,59.0 1230.0,59.0 1231.0,59.0 1232.0,59.0 1233.0,58.9 1234.0,59.0 1235.0,58.9 1236.0,58.9 1237.0,58.9 1238.0,58.9 1239.0,58.9 1240.0,58.9 1241.0,58.9 1242.0,58.9 1243.0,58.8 1244.0,58.9 1245.0,58.9 1246.0,58.9 1247.0,58.8 1248.0,58.8 1249.0,58.8 1250.0,58.7 1251.0,58.7 1252.0,58.7 1253.0,58.7 1254.0,58.6 1255.0,58.7 1256.0,58.7 1257.0,58.7 1258.0,58.7 1259.0,58.6 1260.0,58.7 1261.0,58.6 1262.0,58.6 1263.0,58.6 1264.0,58.6 1265.0,58.6 1266.0,58.5 1267.0,58.4 1268.0,58.4 1269.0,58.4 1270.0,58.4 1271.0,58.4 1272.0,58.3 1273.0,58.3 1274.0,58.3 1275.0,58.3 1276.0,58.3 1277.0,58.4 1278.0,58.4 1279.0,58.3 1280.0,58.3 1281.0,58.3 1282.0,58.2 1283.0,58.2 1284.0,58.1 1285.0,58.2 1286.0,58.1 1287.0,58.1 1288.0,58.1 1289.0,58.0 1290.0,58.0 1291.0,58.0 1292.0,58.1 1293.0,58.0 1294.0,58.1 1295.0,58.1 1296.0,58.1 1297.0,58.0 1298.0,57.9 1299.0,58.0 1300.0,58.0 1301.0,58.0 1302.0,58.0 1303.0,58.0 1304.0,58.0 1305.0,58.0 1306.0,58.0 1307.0,58.0 1308.0,58.0 1309.0,58.0 1310.0,58.0 1311.0,58.0 1312.0,58.0 1313.0,58.0 1314.0,58.0 1315.0,58.0 1316.0,58.1 1317.0,58.1 1318.0,58.1 1319.0,58.1 1320.0,58.0 1321.0,58.0 1322.0,57.9 1323.0,57.9 1324.0,57.8 1325.0,57.9 1326.0,57.8 1327.0,57.8 1328.0,57.8 1329.0,57.8 1330.0,57.8 1331.0,57.9 1332.0,57.9 1333.0,57.9 1334.0,57.9 1335.0,57.9 1336.0,57.9 1337.0,57.8 1338.0,57.8 1339.0,57.8 1340.0,57.8 1341.0,57.8 1342.0,57.8 1343.0,57.7 1344.0,57.8 1345.0,57.7 1346.0,57.7 1347.0,57.7 1348.0,57.6 1349.0,57.6 1350.0,57.6 1351.0,57.5 1352.0,57.6 1353.0,57.5 1354.0,57.6 1355.0,57.6 1356.0,57.7 1357.0,57.7 1358.0,57.7 1359.0,57.6 1360.0,57.6 1361.0,57.6 1362.0,57.6 1363.0,57.6 1364.0,57.5 1365.0,57.5 1366.0,57.5 1367.0,57.5 1368.0,57.5 1369.0,57.5 1370.0,57.5 1371.0,57.5 1372.0,57.4 1373.0,57.4 1374.0,57.4 1375.0,57.4 1376.0,57.4 1377.0,57.4 1378.0,57.4 1379.0,57.4 1380.0,57.4 1381.0,57.4 1382.0,57.4 1383.0,57.3 1384.0,57.4 1385.0,57.4" stroke="url(#og)" stroke-width="5"/>
<path id="c-red-flat" d="M876.9,65.2 878.9,65.2 880.9,65.0 882.9,64.8 884.9,64.6 886.9,64.5 888.9,64.4 890.9,64.2 892.9,64.1 894.9,63.8 896.9,63.7 898.9,63.5 900.9,63.4 902.9,63.3 904.9,63.2 906.9,63.1 908.9,63.0 910.9,62.8 912.9,62.6 914.9,62.4 916.9,62.2 918.9,62.1 920.9,62.1 922.9,62.0 924.9,61.9 926.9,61.7 928.9,61.6 930.9,61.5 932.9,61.4 934.9,61.3 936.9,61.2 938.9,61.1 940.9,60.9 942.9,60.7 944.9,60.6 946.9,60.5 948.9,60.4 950.9,60.3 952.9,60.4 954.9,60.2 956.9,60.1 958.9,60.1 960.9,60.0 962.9,59.9 964.9,59.8 966.9,59.7 968.9,59.7 970.9,59.8 972.9,59.8 974.9,59.6 976.9,59.5 978.9,59.4 980.9,59.5 982.9,59.3 984.9,59.3 986.9,59.3 988.9,59.3 990.9,59.2 992.9,59.0 994.9,58.9 996.9,58.8 998.9,58.7 1000.9,58.7 1002.9,58.7 1004.9,58.7 1006.9,58.9 1008.9,58.9 1010.9,58.8 1012.9,58.8 1014.9,58.9 1016.9,58.8 1018.9,58.7 1020.9,58.7 1022.9,58.6 1024.9,58.7 1026.9,58.5 1028.9,58.5 1030.9,58.5 1032.9,58.5 1034.9,58.6 1036.9,58.6 1038.9,58.6 1040.9,58.6 1042.9,58.5 1044.9,58.5 1046.9,58.4 1048.9,58.5 1050.9,58.5 1052.9,58.4 1054.9,58.4 1056.9,58.4 1058.9,58.4 1060.9,58.4 1062.9,58.5 1064.9,58.6 1066.9,58.4 1068.9,58.4 1070.9,58.5 1072.9,58.5 1074.9,58.4 1076.9,58.4 1078.9,58.3 1080.9,58.2 1082.9,58.2 1084.9,58.2 1086.9,58.2 1088.9,58.1 1090.9,58.0 1092.9,58.1 1094.9,58.0 1096.9,58.0 1098.9,58.1 1100.9,58.1 1102.9,58.1 1104.9,58.1 1106.9,58.1 1108.9,58.0 1110.9,58.0 1112.9,58.0 1114.9,57.9 1116.9,58.0 1118.9,57.9 1120.9,57.9 1122.9,57.8 1124.9,57.8 1126.9,57.8 1128.9,57.7 1130.9,57.8 1132.9,57.8 1134.9,57.6 1136.9,57.6 1138.9,57.5 1140.9,57.6 1142.9,57.7 1144.9,57.7 1146.9,57.6 1148.9,57.6 1150.9,57.7 1152.9,57.7 1154.9,57.7 1156.9,57.8 1158.9,57.9 1160.9,57.9 1162.9,57.8 1164.9,57.8 1166.9,57.8 1168.9,57.7 1170.9,57.6 1172.9,57.6 1174.9,57.5 1176.9,57.5 1178.9,57.5 1180.9,57.7 1182.9,57.6 1184.9,57.6 1186.9,57.5 1188.9,57.6 1190.9,57.6 1192.9,57.5 1194.9,57.5 1196.9,57.4 1198.9,57.3 1200.9,57.4 1202.9,57.4 1204.9,57.3 1206.9,57.3 1208.9,57.4 1210.9,57.4 1212.9,57.4 1214.9,57.4 1216.9,57.2 1218.9,57.2 1220.9,57.3 1222.9,57.2 1224.9,57.2" stroke="#ff0000" stroke-width="4.4"/>
</g>
<!-- frame -->
<rect x="237.75" y="54.0" width="1147.35" height="822.30" fill="none" stroke="#000" stroke-width="3.9"/>
<g stroke="#000" stroke-width="3.8">
<line x1="365.2" y1="54.0" x2="365.2" y2="68.6"/>
<line x1="365.2" y1="876.3" x2="365.2" y2="861.7"/>
<line x1="492.7" y1="54.0" x2="492.7" y2="80.8"/>
<line x1="492.7" y1="876.3" x2="492.7" y2="849.5"/>
<line x1="620.2" y1="54.0" x2="620.2" y2="68.6"/>
<line x1="620.2" y1="876.3" x2="620.2" y2="861.7"/>
<line x1="747.7" y1="54.0" x2="747.7" y2="80.8"/>
<line x1="747.7" y1="876.3" x2="747.7" y2="849.5"/>
<line x1="875.2" y1="54.0" x2="875.2" y2="68.6"/>
<line x1="875.2" y1="876.3" x2="875.2" y2="861.7"/>
<line x1="1002.6" y1="54.0" x2="1002.6" y2="80.8"/>
<line x1="1002.6" y1="876.3" x2="1002.6" y2="849.5"/>
<line x1="1130.1" y1="54.0" x2="1130.1" y2="68.6"/>
<line x1="1130.1" y1="876.3" x2="1130.1" y2="861.7"/>
<line x1="1257.6" y1="54.0" x2="1257.6" y2="80.8"/>
<line x1="1257.6" y1="876.3" x2="1257.6" y2="849.5"/>
<line x1="237.75" y1="171.5" x2="252.3" y2="171.5"/>
<line x1="1385.1" y1="171.5" x2="1370.5" y2="171.5"/>
<line x1="237.75" y1="288.9" x2="264.6" y2="288.9"/>
<line x1="1385.1" y1="288.9" x2="1358.3" y2="288.9"/>
<line x1="237.75" y1="406.4" x2="252.3" y2="406.4"/>
<line x1="1385.1" y1="406.4" x2="1370.5" y2="406.4"/>
<line x1="237.75" y1="523.9" x2="264.6" y2="523.9"/>
<line x1="1385.1" y1="523.9" x2="1358.3" y2="523.9"/>
<line x1="237.75" y1="641.4" x2="252.3" y2="641.4"/>
<line x1="1385.1" y1="641.4" x2="1370.5" y2="641.4"/>
<line x1="237.75" y1="758.8" x2="264.6" y2="758.8"/>
<line x1="1385.1" y1="758.8" x2="1358.3" y2="758.8"/>
</g>
<!-- tick labels -->
<g class="tk">
<text x="154.9" y="937.5" letter-spacing="-0.6">-1400</text>
<text x="410.0" y="937.5" letter-spacing="-0.85">-1200</text>
<text x="664.9" y="937.5" letter-spacing="-0.85">-1000</text>
<text x="934.6" y="937.5" letter-spacing="0.2">-800</text>
<text x="1190.0" y="937.5" letter-spacing="-0.17">-600</text>
<text x="195.5" y="72.7">0</text>
<text x="136.0" y="306.2" letter-spacing="-0.25">-20</text>
<text x="136.0" y="541.7" letter-spacing="-0.25">-40</text>
<text x="136.0" y="775.5" letter-spacing="-0.25">-60</text>
</g>
<!-- legend -->
<g stroke-width="4.4">
<line x1="973.5" y1="343.2" x2="1115" y2="343.2" stroke="#000"/>
<line x1="977.5" y1="445.6" x2="1119" y2="445.6" stroke="#ff0000"/>
<line x1="969.8" y1="552.6" x2="1111.3" y2="552.6" stroke="#ff8c3c"/>
<line x1="969.8" y1="659.5" x2="1111.3" y2="659.5" stroke="#0088fa"/>
</g>
<g class="tk">
<text x="1112.9" y="368.7" letter-spacing="-3.47">Ni-W</text>
<text x="1118.6" y="471.5" letter-spacing="-1.9">1 g/L</text>
<text x="1107.3" y="578.5" letter-spacing="-1.47">5 g/L</text>
<text x="1110.0" y="685" letter-spacing="-1.9">10 g/L</text>
</g>
<!-- axis titles -->
<g class="ttl" id="xt">
<text y="1063.5"><tspan x="220.3" letter-spacing="-0.48">Potential, </tspan><tspan x="519.2" letter-spacing="0" font-style="italic">E </tspan><tspan x="581.5" letter-spacing="0">/ </tspan><tspan x="617.7" letter-spacing="-1.1">mV </tspan><tspan x="740.0" letter-spacing="-0.23">(vs. </tspan><tspan x="855.3" letter-spacing="-0.43">Ag/AgCl </tspan><tspan x="1129.6" letter-spacing="-0.54">sat.KCl)</tspan></text>
</g>
<g class="ttl" id="yt" transform="translate(73.3,880.4) rotate(-90)">
<text y="0"><tspan x="-3.0" letter-spacing="-0.03">Current </tspan><tspan x="255.6" letter-spacing="-0.69">density, </tspan><tspan x="494.2" letter-spacing="0" font-style="italic">j </tspan><tspan x="534.0" letter-spacing="0">/ </tspan><tspan x="570.6" letter-spacing="-1.8">mA</tspan><tspan x="674.2" letter-spacing="0">·</tspan><tspan x="693.4" letter-spacing="-0.2">cm</tspan><tspan x="781.2" y="-20.5" letter-spacing="0.6" font-size="44">-2</tspan></text>
</g>
</svg>
</body>
</html>
